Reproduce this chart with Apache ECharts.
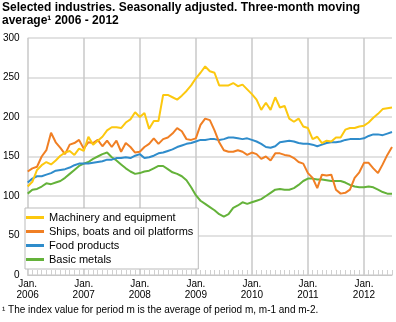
<!DOCTYPE html>
<html><head><meta charset="utf-8">
<script src="https://cdn.jsdelivr.net/npm/echarts@6/dist/echarts.min.js"></script>
<style>html,body{margin:0;padding:0;background:#fff}#c{width:396px;height:322px}</style>
</head><body><div id="c"></div>
<script>
var startYear = 2006;
var monthCount = 79;
var tickYears = ["2006","2007","2008","2009","2010","2011","2012"];
var seriesNames = ["Machinery and equipment","Ships, boats and oil platforms","Food products","Basic metals"];
var machinery = [112,118,133,139,143,140,145,151,155,157,152,160,157,175,165,170,175,183,187,187,186,193,197,206,200,205,185,195,195,228,228,225,222,227,233,240,249,256,264,258,256,240,240,240,243,239,241,235,229,222,209,218,209,225,212,214,198,194,198,188,186,172,175,167,170,169,174,174,184,186,186,188,189,193,199,204,210,211,212];
var ships = [131,135,137,150,158,180,168,161,153,165,167,171,160,168,167,171,163,170,162,170,156,167,162,155,156,162,166,173,166,172,174,179,186,182,172,171,173,190,198,196,183,168,158,156,156,158,156,152,155,153,147,150,145,154,154,152,151,148,143,141,129,123,110,127,126,127,108,103,104,108,123,130,142,142,135,129,140,152,162];
var food = [117,122,125,125,127,129,132,133,134,136,139,141,141,141,142,143,144,146,146,148,148,149,148,151,153,148,149,151,154,155,157,159,162,164,166,167,169,171,171,172,172,171,172,174,174,173,172,173,171,169,166,162,161,163,168,169,170,169,167,166,166,165,163,165,167,168,168,169,171,172,172,172,173,176,178,178,177,179,181];
var metals = [103,108,109,112,116,115,117,119,123,128,133,138,141,143,147,150,153,155,149,145,140,135,131,128,129,131,132,135,138,138,134,130,128,125,120,111,101,94,90,86,82,77,74,77,85,88,92,90,92,94,96,100,104,108,109,108,108,110,114,119,122,122,121,121,120,119,119,119,117,114,112,111,111,112,111,108,105,103,103];
var colors = ["#fcc80f","#f07f24","#2f8ccb","#64b23a"];

var months = [];
for (var i = 0; i < monthCount; i++) {
  var y = startYear + Math.floor(i / 12), m = i % 12 + 1;
  months.push(y + "-" + (m < 10 ? "0" + m : m));
}
var data = [machinery, ships, food, metals];
var chart = echarts.init(document.getElementById('c'), null, {renderer: 'canvas'});
var FONT = '"Liberation Sans", Arial, sans-serif';
chart.setOption({
  animation: false,
  textStyle: {fontFamily: FONT},
  title: {
    text: "Selected industries. Seasonally adjusted. Three-month moving\naverage\u00b9 2006 - 2012",
    left: 2, top: 0, padding: [1, 0, 0, 0],
    textStyle: {fontFamily: FONT, fontSize: 12, fontWeight: 'bold', color: '#000', lineHeight: 13}
  },
  legend: {
    orient: 'vertical', left: 25, top: 208,
    data: seriesNames,
    backgroundColor: '#fff', borderColor: '#bbb', borderWidth: 1,
    padding: [3, 5, 3, 1], itemGap: 1,
    itemWidth: 18, itemHeight: 3,
    icon: 'rect',
    textStyle: {fontFamily: FONT, fontSize: 11, color: '#000', lineHeight: 13}
  },
  grid: {left: 26, right: 4, top: 38, bottom: 47, containLabel: false},
  xAxis: {
    type: 'category', data: months, boundaryGap: false,
    axisLine: {show: true, lineStyle: {color: '#c8c8c8', width: 1}},
    axisTick: {show: true, inside: true, length: 5, interval: 0, lineStyle: {color: '#d0d0d0'}},
    axisLabel: {
      interval: function (idx) { return idx % 12 === 0; },
      formatter: function (v, idx) { return "Jan.\n" + tickYears[Math.floor(idx / 12)]; },
      fontFamily: FONT, fontSize: 10, color: '#000', lineHeight: 11, margin: 4
    },
    splitLine: {show: true, interval: function (idx) { return idx % 12 === 0; }, lineStyle: {color: '#c8c8c8', width: 1.5}}
  },
  yAxis: {
    type: 'value', min: 0, max: 300, interval: 50,
    axisLine: {show: false}, axisTick: {show: false},
    axisLabel: {fontFamily: FONT, fontSize: 10, color: '#000', margin: 8},
    splitLine: {lineStyle: {color: '#d8d8d8', width: 1.5}}
  },
  graphic: [{
    type: 'text', left: 2, top: 305,
    style: {text: "\u00b9 The index value for period m is the average of period m, m-1 and m-2.", fontFamily: FONT, fontSize: 10, fill: '#000'}
  }],
  series: data.map(function (d, k) {
    return {
      name: seriesNames[k], type: 'line', data: d, showSymbol: false, symbol: 'none',
      lineStyle: {color: colors[k], width: 2}, itemStyle: {color: colors[k]},
      z: 10 - k
    };
  })
});
</script></body></html>
